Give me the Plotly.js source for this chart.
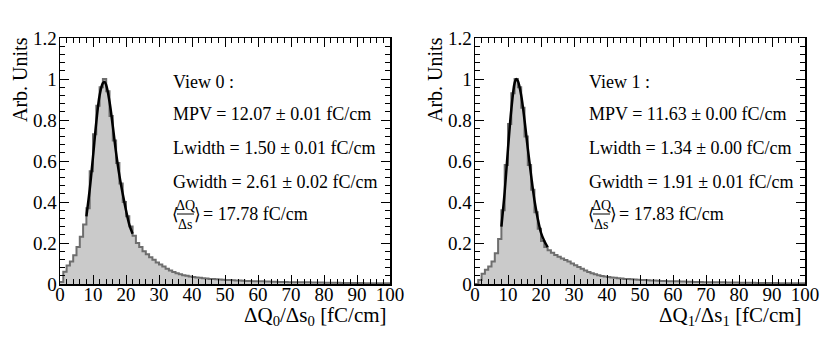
<!DOCTYPE html>
<html>
<head>
<meta charset="utf-8">
<script src="https://cdn.plot.ly/plotly-3.0.1.min.js"></script>
<style>
  body { margin: 0; background: #fff; }
  #chart { width: 830px; height: 340px; }
</style>
</head>
<body>
<div id="chart"></div>
<script>
// histogram: 100 bins of 1 fC/cm from 0 to 100, normalised to peak
const binStart = 0;
const binWidth = 1;

const view0Counts = [
  0.01, 0.06, 0.09, 0.11, 0.14, 0.18, 0.23, 0.29, 0.37, 0.55,
  0.73, 0.87, 0.96, 1.0, 0.94, 0.82, 0.70, 0.59, 0.49, 0.40,
  0.33, 0.28, 0.235, 0.20, 0.18, 0.16, 0.145, 0.13, 0.118, 0.105,
  0.095, 0.085, 0.075, 0.066, 0.058, 0.052, 0.047, 0.043, 0.040, 0.037,
  0.034, 0.032, 0.030, 0.028, 0.027, 0.025, 0.024, 0.023, 0.022, 0.021,
  0.020, 0.019, 0.018, 0.017, 0.017, 0.016, 0.015, 0.015, 0.014, 0.014,
  0.013, 0.013, 0.012, 0.012, 0.011, 0.011, 0.010, 0.010, 0.010, 0.009,
  0.009, 0.009, 0.008, 0.008, 0.008, 0.008, 0.007, 0.007, 0.007, 0.007,
  0.006, 0.006, 0.006, 0.006, 0.006, 0.005, 0.005, 0.005, 0.005, 0.005,
  0.005, 0.005, 0.004, 0.004, 0.004, 0.004, 0.004, 0.004, 0.004, 0.004
];

const view1Counts = [
  0.0, 0.02, 0.05, 0.07, 0.085, 0.11, 0.15, 0.22, 0.36, 0.58,
  0.78, 0.93, 1.0, 0.96, 0.86, 0.72, 0.58, 0.46, 0.35, 0.27,
  0.21, 0.18, 0.165, 0.152, 0.142, 0.133, 0.125, 0.117, 0.11, 0.10,
  0.092, 0.083, 0.074, 0.066, 0.059, 0.053, 0.048, 0.043, 0.039, 0.036,
  0.034, 0.032, 0.030, 0.028, 0.027, 0.025, 0.024, 0.023, 0.022, 0.021,
  0.020, 0.019, 0.018, 0.017, 0.017, 0.016, 0.015, 0.015, 0.014, 0.014,
  0.013, 0.013, 0.012, 0.012, 0.011, 0.011, 0.010, 0.010, 0.010, 0.009,
  0.009, 0.009, 0.008, 0.008, 0.008, 0.008, 0.007, 0.007, 0.007, 0.007,
  0.006, 0.006, 0.006, 0.006, 0.006, 0.005, 0.005, 0.005, 0.005, 0.005,
  0.005, 0.005, 0.004, 0.004, 0.004, 0.004, 0.004, 0.004, 0.004, 0.004
];

// Landau (x) Gauss fit curves
const fit0X = [8, 9, 10, 11, 12, 13, 13.5, 14, 15, 16, 17, 18, 19, 20, 21, 22];
const fit0Y = [0.33, 0.46, 0.62, 0.79, 0.92, 0.98, 0.985, 0.97, 0.89, 0.77, 0.64, 0.53, 0.44, 0.36, 0.29, 0.245];
const fit1X = [8, 9, 10, 11, 12, 12.5, 13, 14, 15, 16, 17, 18, 19, 20, 21, 22];
const fit1Y = [0.28, 0.45, 0.66, 0.85, 0.98, 1.0, 0.99, 0.92, 0.80, 0.66, 0.53, 0.41, 0.32, 0.25, 0.21, 0.18];

const view0Lines = ['View 0 :', 'MPV = 12.07 ± 0.01 fC/cm', 'Lwidth = 1.50 ± 0.01 fC/cm', 'Gwidth = 2.61 ± 0.02 fC/cm'];
const view1Lines = ['View 1 :', 'MPV = 11.63 ± 0.00 fC/cm', 'Lwidth = 1.34 ± 0.00 fC/cm', 'Gwidth = 1.91 ± 0.01 fC/cm'];
const view0Mean = '17.78';
const view1Mean = '17.83';

const SERIF = 'Liberation Serif, serif';

// plot area in pixels (margins)
const M = { l: 60, r: 25, t: 38, b: 56 };
const W = 830, H = 340;
const pw = W - M.l - M.r, ph = H - M.t - M.b;
function px(x) { return (x - M.l) / pw; }
function py(y) { return (H - M.b - y) / ph; }

function stepTrace(counts, xa, ya) {
  const x = [], y = [];
  counts.forEach((c, i) => { x.push(binStart + i * binWidth); y.push(c); });
  x.push(binStart + counts.length * binWidth);
  y.push(counts[counts.length - 1]);
  return {
    type: 'scatter', mode: 'lines', x: x, y: y, xaxis: xa, yaxis: ya,
    line: { shape: 'hv', color: '#6e6e6e', width: 2 },
    fill: 'tozeroy', fillcolor: '#cacaca', hoverinfo: 'skip'
  };
}

function fitTrace(fx, fy, xa, ya) {
  return {
    type: 'scatter', mode: 'lines', x: fx, y: fy, xaxis: xa, yaxis: ya,
    line: { shape: 'spline', color: '#000', width: 2.5 }, hoverinfo: 'skip'
  };
}

const data = [
  stepTrace(view0Counts, 'x', 'y'),
  fitTrace(fit0X, fit0Y, 'x', 'y'),
  stepTrace(view1Counts, 'x2', 'y2'),
  fitTrace(fit1X, fit1Y, 'x2', 'y2')
];

function xAxis(domain, anchor) {
  return {
    domain: domain, anchor: anchor, range: [0, 100], dtick: 10,
    ticks: 'inside', ticklen: 9, tickwidth: 1, tickcolor: '#000',
    minor: { dtick: 2, ticks: 'inside', ticklen: 5, tickcolor: '#000' },
    showline: true, linecolor: '#000', linewidth: 1.5, mirror: 'ticks',
    showgrid: false, zeroline: false, ticklabelstandoff: -7,
    tickfont: { family: SERIF, size: 19, color: '#000' }
  };
}
function yAxis(anchor) {
  return {
    anchor: anchor, range: [0, 1.2], dtick: 0.2,
    ticks: 'inside', ticklen: 9, tickwidth: 1, tickcolor: '#000',
    minor: { dtick: 0.04, ticks: 'inside', ticklen: 5, tickcolor: '#000' },
    showline: true, linecolor: '#000', linewidth: 1.5, mirror: 'ticks',
    showgrid: false, zeroline: false, ticklabelstandoff: -2,
    tickfont: { family: SERIF, size: 19, color: '#000' }
  };
}

const leftEnd = px(390), rightStart = px(475);

const annotations = [];
const shapes = [];
function ann(x, y, text, size, opts) {
  annotations.push(Object.assign({
    xref: 'paper', yref: 'paper', x: px(x), y: py(y), text: text,
    showarrow: false, xanchor: 'left', yanchor: 'middle', borderpad: 0,
    font: { family: SERIF, size: size, color: '#000' }
  }, opts || {}));
}

const rowsY = [82, 114, 148, 182];
const BRACKET = { family: 'DejaVu Serif', size: 17, color: '#000' };
function statBox(x0, lines, mean) {
  lines.forEach((t, i) => ann(x0, rowsY[i], t, 18));
  // <ΔQ/Δs> built from a bracket, a two-row fraction and a bar
  ann(x0 - 1, 214, '⟨', 17, { font: BRACKET });
  ann(x0 + 13, 206, 'ΔQ', 14, { xanchor: 'center' });
  ann(x0 + 13, 224, 'Δs', 14, { xanchor: 'center' });
  shapes.push({ type: 'line', xref: 'paper', yref: 'paper',
    x0: px(x0 + 5), x1: px(x0 + 22), y0: py(214), y1: py(214),
    line: { color: '#000', width: 1 } });
  ann(x0 + 21, 214, '⟩', 17, { font: BRACKET });
  ann(x0 + 30, 214, '= ' + mean + ' fC/cm', 18);
}
statBox(172, view0Lines, view0Mean);
statBox(588, view1Lines, view1Mean);

// axis titles
ann(20, 80, 'Arb. Units', 20, { xanchor: 'center', textangle: -90 });
ann(435, 80, 'Arb. Units', 20, { xanchor: 'center', textangle: -90 });
ann(388, 316, 'ΔQ<sub>0</sub>/Δs<sub>0</sub> [fC/cm]', 21, { xanchor: 'right' });
ann(803, 316, 'ΔQ<sub>1</sub>/Δs<sub>1</sub> [fC/cm]', 21, { xanchor: 'right' });

const layout = {
  width: W, height: H,
  margin: M,
  paper_bgcolor: '#fff', plot_bgcolor: '#fff',
  showlegend: false,
  xaxis: xAxis([0, leftEnd], 'y'),
  yaxis: yAxis('x'),
  xaxis2: xAxis([rightStart, 1], 'y2'),
  yaxis2: yAxis('x2'),
  annotations: annotations,
  shapes: shapes
};

Plotly.newPlot('chart', data, layout, { displayModeBar: false, staticPlot: true });
</script>
</body>
</html>
